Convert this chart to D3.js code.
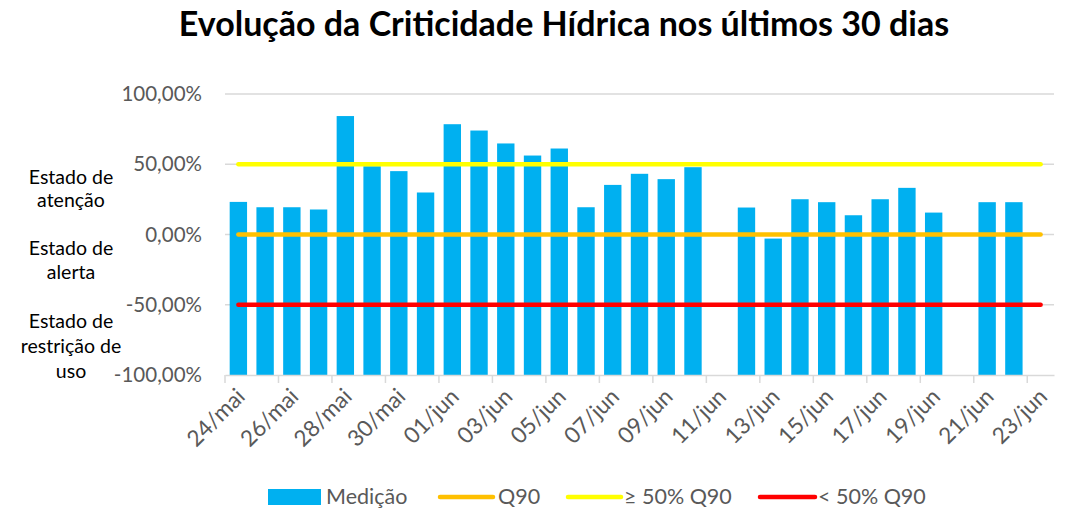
<!DOCTYPE html>
<html>
<head>
<meta charset="utf-8">
<script src="https://cdn.jsdelivr.net/npm/d3@7"></script>
<style>
  body { margin: 0; background: #fff; }
  text { font-family: Lato, "Open Sans", sans-serif; }
</style>
</head>
<body>
<div id="ChartArea"></div>
<script>
// ------------------------------------------------------------------
// dados
// ------------------------------------------------------------------
const dias = ["24/mai","25/mai","26/mai","27/mai","28/mai","29/mai","30/mai","31/mai",
  "01/jun","02/jun","03/jun","04/jun","05/jun","06/jun","07/jun","08/jun","09/jun","10/jun",
  "11/jun","12/jun","13/jun","14/jun","15/jun","16/jun","17/jun","18/jun","19/jun","20/jun",
  "21/jun","22/jun","23/jun"];

// medição (%) - null = sem dado
const medicao = [23.2, 19.4, 19.4, 17.8, 84.3, 48.6, 45.1, 29.9, 78.5, 74.0, 64.8, 56.2, 61.2,
  19.4, 35.3, 43.2, 39.4, 47.9, null, 19.2, -2.9, 25.1, 23.0, 13.7, 25.1, 33.2, 15.6, null,
  23.0, 23.0, null];

const limiteNomes = ["Q90", "≥ 50% Q90", "< 50% Q90"];
const limiteValores = [0, 50, -50];
const limiteCores = ["#FFC000", "#FFFF00", "#FF0000"];

const yTicks = [-100, -50, 0, 50, 100];
const estadoLinhas = [["Estado de", "atenção"], ["Estado de", "alerta"], ["Estado de", "restrição de", "uso"]];
const estadoCentro = [27.6, -23.3, -84.3];

// ------------------------------------------------------------------
const W = 1073, H = 510;
const margin = {top: 94, left: 225, right: W - 1054, bottom: H - 375};
const width = W - margin.left - margin.right;
const height = H - margin.top - margin.bottom;

const svg = d3.select("#ChartArea").append("svg")
  .attr("width", W).attr("height", H);

// titulo
svg.append("text")
  .attr("x", 564).attr("y", 36)
  .attr("text-anchor", "middle")
  .attr("font-weight", "bold")
  .attr("font-size", 34)
  .attr("fill", "#000")
  .text("Evolução da Criticidade Hídrica nos últimos 30 dias");

const g = svg.append("g")
  .attr("transform", "translate(" + margin.left + "," + margin.top + ")");

const x = d3.scaleBand()
  .domain(dias)
  .range([0, width])
  .paddingInner(0.35)
  .paddingOuter(0.175);

const y = d3.scaleLinear()
  .domain([-100, 100])
  .range([height, 0]);

// linhas de grade
g.selectAll(".grid")
  .data(yTicks.filter(d => d > -100))
  .enter().append("line")
  .attr("x1", 0).attr("x2", width)
  .attr("y1", d => y(d)).attr("y2", d => y(d))
  .attr("stroke", "#D9D9D9").attr("stroke-width", 1.3);

// eixo Y
const yAxis = g.append("g")
  .call(d3.axisLeft(y).tickValues(yTicks).tickSize(0).tickPadding(23)
    .tickFormat(d => d.toFixed(2).replace(".", ",") + "%"));
yAxis.select(".domain").remove();
yAxis.selectAll("text")
  .attr("fill", "#595959")
  .attr("font-size", 20.5)
  .style("font-family", "Lato, sans-serif");

// barras
g.selectAll(".bar")
  .data(dias.map((d, i) => ({dia: d, v: medicao[i]})).filter(d => d.v !== null))
  .enter().append("rect")
  .attr("class", "bar")
  .attr("x", d => x(d.dia))
  .attr("width", x.bandwidth())
  .attr("y", d => y(d.v))
  .attr("height", d => y(-100) - y(d.v))
  .attr("fill", "#00B0F0");

// eixo X
const pares = dias.filter((d, i) => i % 2 === 0);
const xAxis = g.append("g")
  .attr("transform", "translate(0," + height + ")")
  .call(d3.axisBottom(x).tickValues(pares).tickSizeInner(8).tickSizeOuter(0).tickFormat(""));
xAxis.select(".domain").attr("stroke", "#D9D9D9").attr("stroke-width", 1.5);
xAxis.selectAll(".tick line")
  .attr("stroke", "#D9D9D9").attr("stroke-width", 1.5)
  .attr("transform", "translate(" + (-x.step() / 2) + ",0)");

g.selectAll(".xlabel")
  .data(pares)
  .enter().append("text")
  .attr("class", "xlabel")
  .attr("text-anchor", "end")
  .attr("fill", "#595959")
  .attr("font-size", 22.5)
  .attr("transform", d => "translate(" + (x(d) + x.bandwidth() / 2 + 8) + "," + (height + 23) + ") rotate(-45)")
  .text(d => d);

// linhas de limite
limiteValores.forEach(function(v, i) {
  g.append("line")
    .attr("x1", x(dias[0]) + x.bandwidth() / 2)
    .attr("x2", x(dias[dias.length - 1]) + x.bandwidth() / 2)
    .attr("y1", y(v)).attr("y2", y(v))
    .attr("stroke", limiteCores[i])
    .attr("stroke-width", 4.5)
    .attr("stroke-linecap", "round");
});

// rótulos de estado
estadoLinhas.forEach(function(linhas, k) {
  const n = linhas.length;
  const t = svg.append("text")
    .attr("text-anchor", "middle")
    .attr("fill", "#000")
    .attr("font-size", 19.5);
  linhas.forEach(function(l, j) {
    t.append("tspan")
      .attr("x", 71)
      .attr("y", margin.top + y(estadoCentro[k]) + (j - (n - 1) / 2) * (n > 2 ? 25 : 23.5))
      .text(l);
  });
});

// legenda
const leg = svg.append("g").attr("transform", "translate(0,497)");
leg.append("rect").attr("x", 268).attr("y", -8).attr("width", 53).attr("height", 16).attr("fill", "#00B0F0");
leg.append("text").attr("x", 326).attr("y", 7).text("Medição");
const legX = [[440, 493, 498], [568, 621, 624], [760, 815, 818]];
[0, 1, 2].forEach(function(i) {
  leg.append("line")
    .attr("x1", legX[i][0]).attr("x2", legX[i][1])
    .attr("y1", 0).attr("y2", 0)
    .attr("stroke", limiteCores[i]).attr("stroke-width", 4.5).attr("stroke-linecap", "round");
  leg.append("text").attr("x", legX[i][2]).attr("y", 7).text(limiteNomes[i]);
});
leg.selectAll("text").attr("fill", "#595959").attr("font-size", 21.5);
</script>
</body>
</html>
